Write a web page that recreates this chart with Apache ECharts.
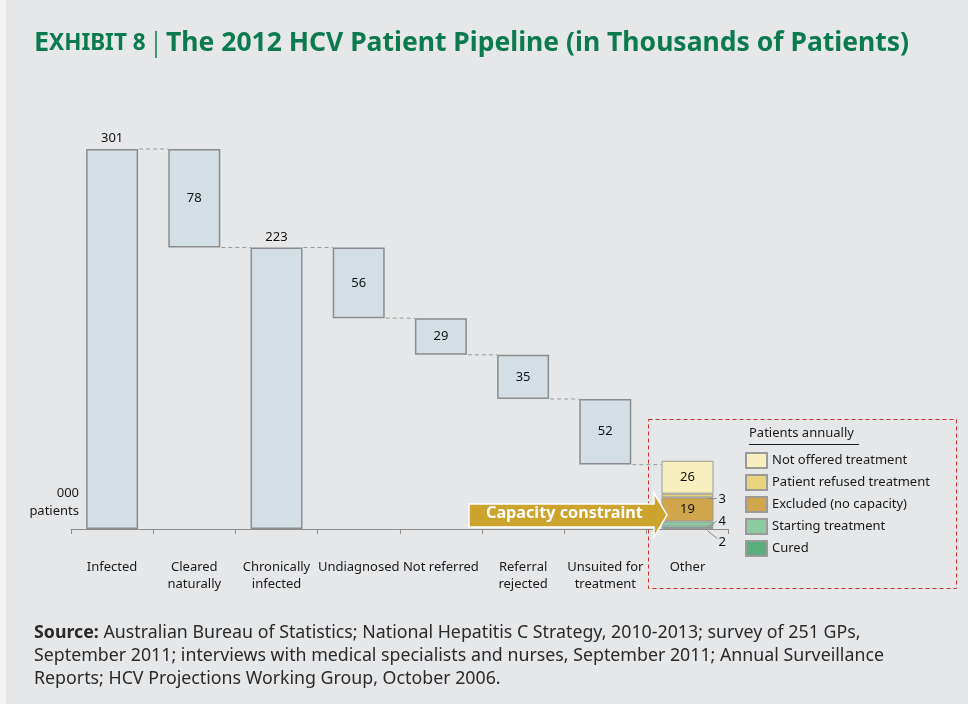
<!DOCTYPE html>
<html>
<head>
<meta charset="utf-8">
<script src="https://cdn.jsdelivr.net/npm/echarts@6/dist/echarts.min.js"></script>
<style>
html,body{margin:0;padding:0;background:#e6e7e9;}
#chart{width:968px;height:704px;}
</style>
</head>
<body>
<div id="chart"></div>
<script>
// ---- data ----
const categories = ['Infected', 'Cleared\nnaturally', 'Chronically\ninfected', 'Undiagnosed', 'Not referred', 'Referral\nrejected', 'Unsuited for\ntreatment', 'Other'];
const pipelineSteps = [301, -78, 223, -56, -29, -35, -52]; // positive = total bar, negative = drop
const subtotalIndex = [0, 2];
const otherNames = ['Not offered treatment', 'Patient refused treatment', 'Excluded (no capacity)', 'Starting treatment', 'Cured'];
const otherValues = [26, 3, 19, 4, 2];
const otherColors = ['#f8efbf', '#e8d47c', '#d1a54c', '#8dc9a2', '#5aae80'];

// ---- build waterfall ----
const baseData = [], mainData = [], connectorLevels = [];
let running = 0;
pipelineSteps.forEach((v, i) => {
  if (subtotalIndex.includes(i)) {
    baseData.push(0); mainData.push(v); running = v;
    connectorLevels.push(v);
  } else {
    running += v;
    baseData.push(running); mainData.push(-v);
    connectorLevels.push(running);
  }
});
baseData.push(0); mainData.push('-');

const FONT = '"Noto Sans", "Open Sans", sans-serif';
const BAR_W = 52;

const series = [
  { name: 'base', type: 'bar', stack: 'w', barWidth: BAR_W, silent: true,
    itemStyle: { color: 'transparent' }, data: baseData },
  { name: 'main', type: 'bar', stack: 'w', barWidth: BAR_W,
    itemStyle: { color: '#d3dfe5', borderColor: '#8c8c8c', borderWidth: 1.5 },
    label: { show: true, fontFamily: FONT, fontSize: 13, color: '#111',
      position: 'inside',
      formatter: p => String(p.value) },
    data: mainData.map((v, i) => subtotalIndex.includes(i)
      ? { value: v, label: { position: 'top', distance: 4 } } : v)
  }
];
// stack from bottom: Cured, Starting, Excluded, Refused, Not offered
const stackOrder = [4, 3, 2, 1, 0];
const labelCfg = {
  0: { position: 'inside' },
  2: { position: 'inside' },
  1: { position: 'right', distance: 5, offset: [0, 4] },
  3: { position: 'right', distance: 5, offset: [0, -3] },
  4: { position: 'right', distance: 5, offset: [0, 15] }
};
stackOrder.forEach(k => {
  const d = categories.map((c, i) => i === categories.length - 1 ? otherValues[k] : '-');
  series.push({
    name: otherNames[k], type: 'bar', stack: 'w', barWidth: BAR_W,
    itemStyle: { color: otherColors[k], borderColor: '#9a9a9a', borderWidth: 1 },
    label: Object.assign({ show: true, fontFamily: FONT, fontSize: 13, color: '#111' }, labelCfg[k]),
    data: d
  });
});
// dashed connectors between waterfall bars
series.push({
  type: 'custom', silent: true, z: 1,
  data: connectorLevels.map((lv, i) => [i, lv]),
  renderItem: (params, api) => {
    const i = api.value(0), lv = api.value(1);
    const p = api.coord([i, lv]), q = api.coord([i + 1, lv]);
    return { type: 'line', shape: { x1: p[0] + BAR_W / 2 + 1, y1: p[1], x2: q[0] - BAR_W / 2, y2: q[1] },
      style: { stroke: '#9a9a9a', lineWidth: 1, lineDash: [4, 3] } };
  }
});
// leader lines for small "Other" segments
const otherIdx = categories.length - 1;
series.push({
  type: 'custom', silent: true, z: 5,
  data: [[otherIdx, 2 + 4 + 19 + 1.5, 0], [otherIdx, 2 + 2, 1], [otherIdx, 1, 2]],
  renderItem: (params, api) => {
    const p = api.coord([api.value(0), api.value(1)]);
    const right = p[0] + BAR_W / 2;
    const kind = api.value(2);
    let shape;
    if (kind === 0) shape = { x1: right - 6, y1: p[1] + 3, x2: right + 3, y2: p[1] + 3 };
    else if (kind === 1) shape = { x1: right - 6, y1: p[1] + 4, x2: right + 3, y2: p[1] - 3 };
    else shape = { x1: right - 6, y1: p[1] + 3, x2: right + 4, y2: p[1] + 11 };
    return { type: 'line', shape, style: { stroke: '#8a8a8a', lineWidth: 1 } };
  }
});

const chart = echarts.init(document.getElementById('chart'));
chart.setOption({
  backgroundColor: '#e6e7e9',
  animation: false,
  grid: { left: 71, right: 239.4, top: 125, bottom: 175 },
  xAxis: {
    type: 'category', data: categories,
    axisLine: { lineStyle: { color: '#8c8c8c', width: 1 } },
    axisTick: { show: true, length: 5, lineStyle: { color: '#8c8c8c' } },
    axisLabel: { interval: 0, margin: 30, fontFamily: FONT, fontSize: 13, color: '#1a1a1a', lineHeight: 17 }
  },
  yAxis: { type: 'value', min: 0, max: 320, show: false },
  legend: {
    data: otherNames, orient: 'vertical', left: 740, top: 447,
    itemWidth: 21, itemHeight: 15, itemGap: 5, icon: 'rect',
    selectedMode: false,
    textStyle: { fontFamily: FONT, fontSize: 13, color: '#1a1a1a' }
  },
  series,
  graphic: [
    { type: 'rect', left: 0, top: 0, shape: { width: 6, height: 704 }, style: { fill: '#f4f4f5' } },
    // title
    { type: 'text', left: 34, top: 30, style: {
      text: '{e|E}{x|XHIBIT 8}',
      rich: { e: { fontFamily: FONT, fontWeight: 'bold', fontSize: 27, fill: '#0b7a4e' },
              x: { fontFamily: FONT, fontWeight: 'bold', fontSize: 22.5, fill: '#0b7a4e' } } } },
    { type: 'line', shape: { x1: 156, y1: 31, x2: 156, y2: 58 }, style: { stroke: '#0b7a4e', lineWidth: 1.5 } },
    { type: 'text', left: 166, top: 30, style: {
      text: 'The 2012 HCV Patient Pipeline (in Thousands of Patients)',
      fontFamily: FONT, fontWeight: 'bold', fontSize: 26.5, fill: '#0b7a4e' } },
    // y unit label
    { type: 'text', x: 79, y: 484, style: {
      text: '000\npatients', align: 'right', fontFamily: FONT, fontSize: 13, fill: '#1a1a1a', lineHeight: 18 } },
    // red dashed box
    { type: 'rect', shape: { x: 648.5, y: 419.5, width: 308, height: 169 },
      style: { fill: 'none', stroke: '#d0302a', lineWidth: 1, lineDash: [4, 3] }, z: 10 },
    // legend title
    { type: 'text', left: 749, top: 427, style: { text: 'Patients annually', fontFamily: FONT, fontSize: 13, fill: '#1a1a1a' } },
    { type: 'line', shape: { x1: 749, y1: 444.5, x2: 859, y2: 444.5 }, style: { stroke: '#1a1a1a', lineWidth: 1 } },
    // capacity constraint arrow
    { type: 'polygon', z: 20, shape: { points: [[469, 504], [654, 504], [654, 493], [667, 515], [654, 537], [654, 527], [469, 527]] },
      style: { fill: '#cba32d', stroke: '#ffffff', lineWidth: 1.5 } },
    { type: 'text', z: 21, left: 486, top: 505, style: { text: 'Capacity constraint', fontFamily: FONT, fontWeight: 'bold', fontSize: 16.2, fill: '#ffffff' } },
    // source
    { type: 'text', left: 34, top: 622, style: {
      text: '{b|Source:} Australian Bureau of Statistics; National Hepatitis C Strategy, 2010-2013; survey of 251 GPs,\nSeptember 2011; interviews with medical specialists and nurses, September 2011; Annual Surveillance\nReports; HCV Projections Working Group, October 2006.',
      fontFamily: FONT, fontSize: 17.8, fill: '#2a2a2a', lineHeight: 22.8,
      rich: { b: { fontFamily: FONT, fontWeight: 'bold', fontSize: 17.8, fill: '#2a2a2a', lineHeight: 22.8 } } } }
  ]
});
</script>
</body>
</html>
